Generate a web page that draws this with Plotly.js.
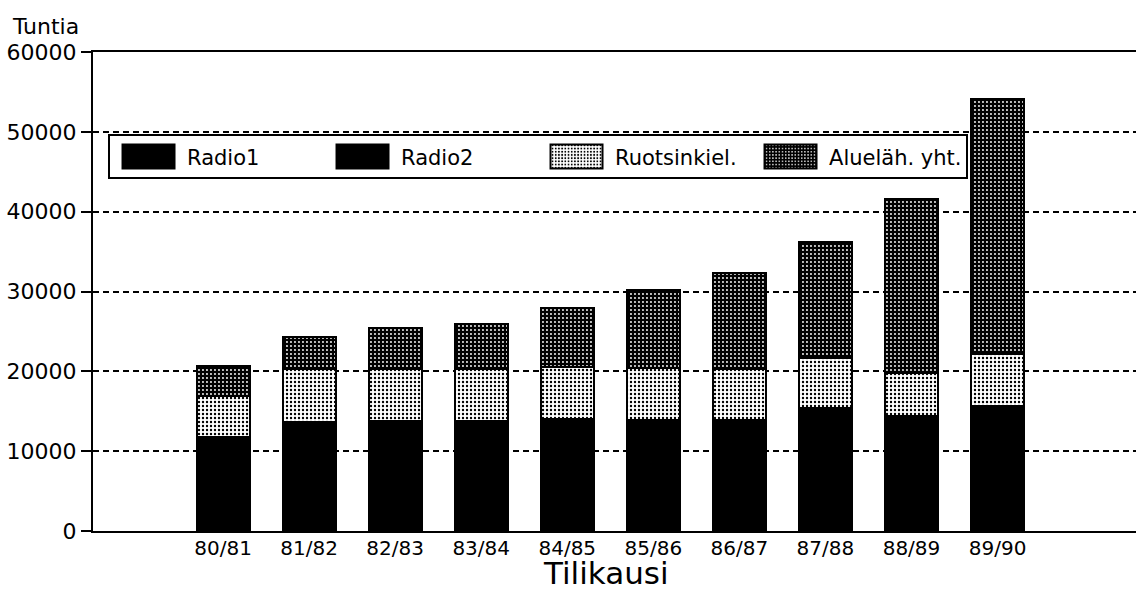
<!DOCTYPE html>
<html>
<head>
<meta charset="utf-8">
<script src="https://cdn.plot.ly/plotly-3.0.1.min.js"></script>
<style>
html,body{margin:0;padding:0;background:#fff;}
#chart{width:1136px;height:599px;}
</style>
</head>
<body>
<div id="chart"></div>
<script>
// Data (hours per fiscal year)
const categories = ['80/81','81/82','82/83','83/84','84/85','85/86','86/87','87/88','88/89','89/90'];
const radio1      = [6000, 6900, 6900, 6900, 7000, 7000, 7000, 7700, 7200, 7900];
const radio2      = [5800, 6800, 6900, 6900, 7000, 6900, 6900, 7700, 7200, 7800];
const ruotsinkiel = [5100, 6600, 6500, 6500, 6500, 6500, 6400, 6300, 5400, 6500];
const aluelah     = [3800, 4000, 5100, 5600, 7400, 9800, 12000, 14500, 21800, 31900];
const seriesNames = ['Radio1', 'Radio2', 'Ruotsinkiel.', 'Alueläh. yht.'];
const yTicks = [0, 10000, 20000, 30000, 40000, 50000, 60000];
const betweenTicks = [0.5, 1.5, 2.5, 3.5, 4.5, 5.5, 6.5, 7.5, 8.5];

const FONT = 'DejaVu Sans, Verdana, sans-serif';
const xRange = [-1.511, 10.609];
const barWidth = 0.616;
const outline = {color: '#000', width: 2};

const traces = [
  {type: 'bar', name: seriesNames[0], x: categories, y: radio1, width: barWidth,
   marker: {color: '#000', line: outline}},
  {type: 'bar', name: seriesNames[1], x: categories, y: radio2, width: barWidth,
   marker: {color: '#000', line: outline}},
  {type: 'bar', name: seriesNames[2], x: categories, y: ruotsinkiel, width: barWidth,
   marker: {color: '#fff', line: outline,
            pattern: {shape: '.', bgcolor: '#ffffff', fgcolor: '#000000', size: 4, solidity: 0.27}}},
  {type: 'bar', name: seriesNames[3], x: categories, y: aluelah, width: barWidth,
   marker: {color: '#000', line: outline,
            pattern: {shape: '.', bgcolor: '#000000', fgcolor: '#ffffff', size: 4, solidity: 0.18}}}
];

const layout = {
  width: 1136, height: 599,
  margin: {l: 93, r: 0, t: 52, b: 68},
  paper_bgcolor: '#fff', plot_bgcolor: '#fff',
  barmode: 'stack',
  font: {family: FONT, color: '#000', size: 22},
  showlegend: true,
  legend: {
    orientation: 'h', x: 0.0144, y: 0.828, xanchor: 'left', yanchor: 'top',
    bgcolor: '#fff', bordercolor: '#000', borderwidth: 2,
    font: {family: FONT, size: 21, color: '#000'},
    traceorder: 'normal', entrywidth: 132, itemwidth: 67
  },
  xaxis: {
    type: 'category', range: xRange, fixedrange: true,
    showline: true, linecolor: '#000', linewidth: 2, mirror: true,
    ticks: '', showgrid: false, zeroline: false, ticklabelstandoff: -2,
    tickfont: {family: FONT, size: 20, color: '#000'}
  },
  xaxis2: {
    overlaying: 'x', anchor: 'y', side: 'bottom', range: xRange, fixedrange: true,
    tickmode: 'array', tickvals: betweenTicks, ticks: 'outside', ticklen: 10,
    tickwidth: 2, tickcolor: '#000', showticklabels: false,
    showgrid: false, showline: false, zeroline: false
  },
  yaxis: {
    range: [0, 60000], fixedrange: true,
    tickmode: 'array', tickvals: yTicks, ticktext: yTicks.map(String),
    showline: true, linecolor: '#000', linewidth: 2,
    ticks: 'outside', ticklen: 10, tickwidth: 2, tickcolor: '#000',
    showgrid: true, gridcolor: '#000', gridwidth: 2, griddash: '6px,4px',
    zeroline: false,
    tickfont: {family: FONT, size: 22, color: '#000'}
  },
  yaxis2: {
    overlaying: 'y', anchor: 'x', side: 'left', range: [0, 60000], fixedrange: true,
    tickmode: 'array', tickvals: yTicks.slice(0, 6), ticks: 'inside', ticklen: 6,
    tickwidth: 2, tickcolor: '#000', showticklabels: false,
    showgrid: false, showline: false, zeroline: false
  },
  annotations: [
    {text: 'Tuntia', xref: 'paper', yref: 'paper', x: -0.08, y: 1.083,
     xanchor: 'left', yanchor: 'top', showarrow: false,
     font: {family: FONT, size: 22, color: '#000'}},
    {text: 'Tilikausi', xref: 'paper', yref: 'paper', x: 0.492, y: -0.045,
     xanchor: 'center', yanchor: 'top', showarrow: false,
     font: {family: FONT, size: 31, color: '#000'}}
  ]
};

Plotly.newPlot('chart', traces, layout, {staticPlot: true, displayModeBar: false}).then(function(gd){
  // enlarge the legend swatches to the wide rectangles of the original
  gd.querySelectorAll('.legend .legendpoints path').forEach(function(p){
    p.setAttribute('d', 'M26,12H-26V-12H26Z');
  });
});
</script>
</body>
</html>
